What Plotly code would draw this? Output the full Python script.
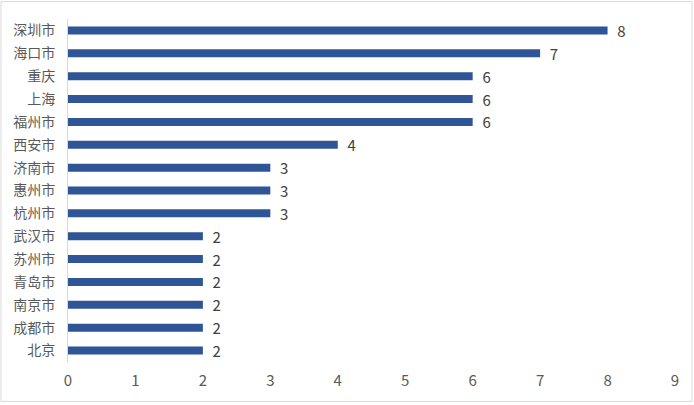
import plotly.graph_objects as go

cities = ["深圳市", "海口市", "重庆", "上海", "福州市", "西安市", "济南市", "惠州市",
          "杭州市", "武汉市", "苏州市", "青岛市", "南京市", "成都市", "北京"]
counts = [8, 7, 6, 6, 6, 4, 3, 3, 3, 2, 2, 2, 2, 2, 2]
x_ticks = list(range(0, 10))

FONT = "Microsoft YaHei, Noto Sans CJK SC, sans-serif"

fig = go.Figure(go.Bar(
    y=cities[::-1], x=counts[::-1], orientation="h",
    marker=dict(color="#2F5597", line=dict(width=0)),
    text=[f"  {v}" for v in counts[::-1]], textposition="outside",
    constraintext="none",
    textfont=dict(size=15, color="#404040", family=FONT),
    cliponaxis=False, hoverinfo="skip",
))

L, R, T, B = 68, 19, 18.5, 42.5
W, H = 694, 405
pw, ph = W - L - R, H - T - B

fig.update_layout(
    width=W, height=H,
    margin=dict(l=L, r=R, t=T, b=B, pad=0, autoexpand=False),
    paper_bgcolor="white", plot_bgcolor="white",
    bargap=0.65, showlegend=False,
    font=dict(family=FONT, size=14, color="#595959"),
    xaxis=dict(range=[0, 9], tickvals=x_ticks, showgrid=False, zeroline=False,
               showline=False, ticks="", automargin=False, ticklabelstandoff=8,
               tickfont=dict(size=15, color="#595959")),
    yaxis=dict(showgrid=False, zeroline=False, showline=True, linecolor="#D9D9D9",
               linewidth=1, ticks="", automargin=False, ticklabelstandoff=9,
               tickfont=dict(size=14, color="#595959")),
    shapes=[dict(type="rect", xref="paper", yref="paper",
                 x0=(1 - L) / pw, x1=(692 - L) / pw,
                 y0=(H - B - 402) / ph, y1=(H - B - 1) / ph,
                 line=dict(color="#D9D9D9", width=1), fillcolor="rgba(0,0,0,0)")],
)

fig.write_html("out.html", config={"displayModeBar": False},
               post_script="document.body.style.margin='0';document.body.style.padding='0';")
